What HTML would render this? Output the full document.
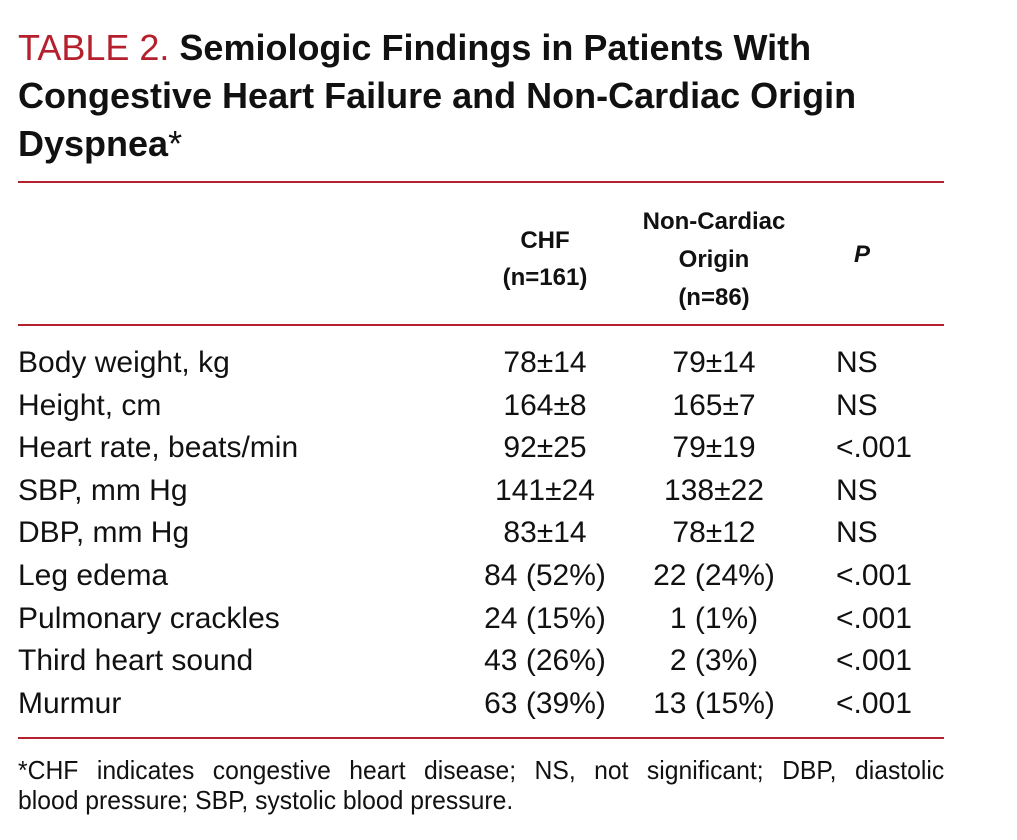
<!DOCTYPE html>
<html><head><meta charset="utf-8">
<style>
html,body{margin:0;padding:0;background:#fff;}
body{width:1017px;height:840px;position:relative;overflow:hidden;font-family:"Liberation Sans",sans-serif;color:#111;}
.a{position:absolute;white-space:nowrap;}
.t{font-size:36px;font-weight:bold;left:18px;line-height:48px;}
.red{color:#b5202e;font-weight:normal;}
.rule{position:absolute;left:18px;width:926px;height:2px;background:#b5202e;}
.h{font-size:24px;font-weight:bold;text-align:center;width:200px;}
.r{font-size:30px;line-height:30px;}
.c1{left:445px;width:200px;text-align:center;}
.c2{left:614px;width:200px;text-align:center;}
.p{left:836px;}
.fn{font-size:26px;left:18px;line-height:30px;transform:scaleX(0.95);transform-origin:0 0;}
.fn1{width:975px;text-align:justify;text-align-last:justify;white-space:normal;}
</style></head><body>
<div class="a t" style="top:24px"><span class="red">TABLE 2.</span> Semiologic Findings in Patients With<br>Congestive Heart Failure and Non-Cardiac Origin<br>Dyspnea<span style="font-weight:normal">*</span></div>
<div class="rule" style="top:181px"></div>
<div class="a h" style="left:445px;top:222px;line-height:37px">CHF<br>(n=161)</div>
<div class="a h" style="left:614px;top:203px;line-height:38px">Non-Cardiac<br>Origin<br>(n=86)</div>
<div class="a h" style="left:762px;top:241px;font-style:italic">P</div>
<div class="rule" style="top:324px"></div>
<div id="rows"></div>
<div class="rule" style="top:737px"></div>
<div class="a fn fn1" style="top:755px">*CHF indicates congestive heart disease; NS, not significant; DBP, diastolic</div>
<div class="a fn" style="top:785px">blood pressure; SBP, systolic blood pressure.</div>
<script>
const labels=["Body weight, kg","Height, cm","Heart rate, beats/min","SBP, mm Hg","DBP, mm Hg","Leg edema","Pulmonary crackles","Third heart sound","Murmur"];
const chf=["78±14","164±8","92±25","141±24","83±14","84 (52%)","24 (15%)","43 (26%)","63 (39%)"];
const nonCardiac=["79±14","165±7","79±19","138±22","78±12","22 (24%)","1 (1%)","2 (3%)","13 (15%)"];
const pvals=["NS","NS","<.001","NS","NS","<.001","<.001","<.001","<.001"];
const root=document.getElementById('rows');
labels.forEach((l,i)=>{
  const top=348+i*42.6;
  const row=document.createElement('div');
  
  
  const cells=[[l,'a r','left:18px'],[chf[i],'a r c1',''],[nonCardiac[i],'a r c2',''],[pvals[i],'a r p','']];
  cells.forEach((c,j)=>{
    const d=document.createElement('div');
    d.className=c[1];
    d.style.cssText=c[2]+';top:'+top+'px';
    d.textContent=c[0];
    
    
    row.appendChild(d);
  });
  root.appendChild(row);
});
</script>
</body></html>
